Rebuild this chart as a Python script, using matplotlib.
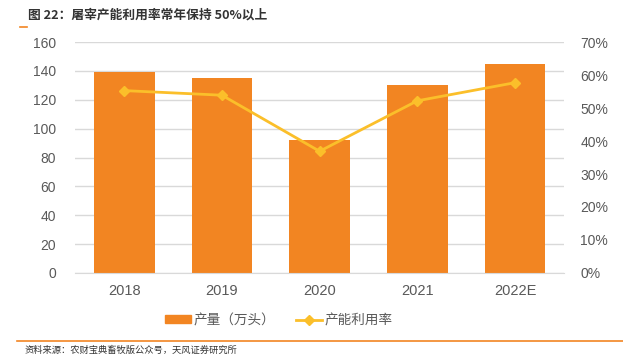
import numpy as np
import matplotlib.pyplot as plt
from matplotlib.lines import Line2D

plt.rcParams['font.family'] = ['Liberation Sans', 'Noto Sans CJK SC']

years = ['2018', '2019', '2020', '2021', '2022E']
output = [139, 135, 92, 130.5, 144.5]          # 产量（万头）
utilization = [55.3, 53.9, 36.9, 52.2, 57.7]   # 产能利用率 %

bar_color = '#F28522'
line_color = '#FBBF2A'
tick_color = '#595959'
cjk = ['Noto Sans CJK SC', 'DejaVu Sans']

fig = plt.figure(figsize=(6.23, 3.54), dpi=100)
ax = fig.add_axes([0.121, 0.229, 0.784, 0.652])
ax2 = ax.twinx()

x = np.arange(len(years))
ax.bar(x, output, width=0.62, color=bar_color, zorder=2)
ax2.plot(x, utilization, color=line_color, lw=2, marker='D', ms=5.5, zorder=3)

ax.set_xlim(-0.5, len(years) - 0.5)
ax.set_ylim(0, 160)
ax.set_yticks(np.arange(0, 161, 20))
ax2.set_ylim(0, 70)
ax2.set_yticks(np.arange(0, 71, 10))
ax2.set_yticklabels(['{}%'.format(v) for v in range(0, 71, 10)])
ax.set_xticks(x)
ax.set_xticklabels(years)

ax.grid(axis='y', color='#D9D9D9', lw=1, zorder=0)
ax.set_axisbelow(True)
for a in (ax, ax2):
	for s in a.spines.values():
		s.set_visible(False)
	a.tick_params(length=0, colors=tick_color, labelsize=10)
ax.spines['bottom'].set_visible(True)
ax.spines['bottom'].set_color('#D9D9D9')
ax.tick_params(axis='x', pad=8, labelsize=10.5)
ax.tick_params(axis='y', pad=14)
ax2.tick_params(axis='y', pad=12)

handles = [
	plt.Rectangle((0, 0), 1, 0.5, color=bar_color),
	Line2D([0], [0], color=line_color, lw=2, marker='D', ms=5),
]
fig.legend(handles, ['产量（万头）', '产能利用率'], loc='center', bbox_to_anchor=(0.448, 0.096),
	ncol=2, frameon=False, prop={'family': cjk, 'size': 9.8}, labelcolor=tick_color,
	handlelength=1.9, handleheight=0.5, columnspacing=1.5, handletextpad=0.2)

fig.text(0.045, 0.957, '图 22：屠宰产能利用率常年保持 50%以上', fontsize=9.2,
	fontweight='bold', color='#333333', va='center', family=cjk)
fig.add_artist(Line2D([0.032, 0.044], [0.925, 0.925], color=bar_color, lw=1.2))
fig.add_artist(Line2D([0.027, 1.0], [0.037, 0.037], color=bar_color, lw=1.2))
fig.text(0.04, 0.011, '资料来源：农财宝典畜牧版公众号，天风证券研究所', fontsize=6.7,
	color='#333333', va='center', family=cjk)

fig.savefig('out.png', dpi=100)
